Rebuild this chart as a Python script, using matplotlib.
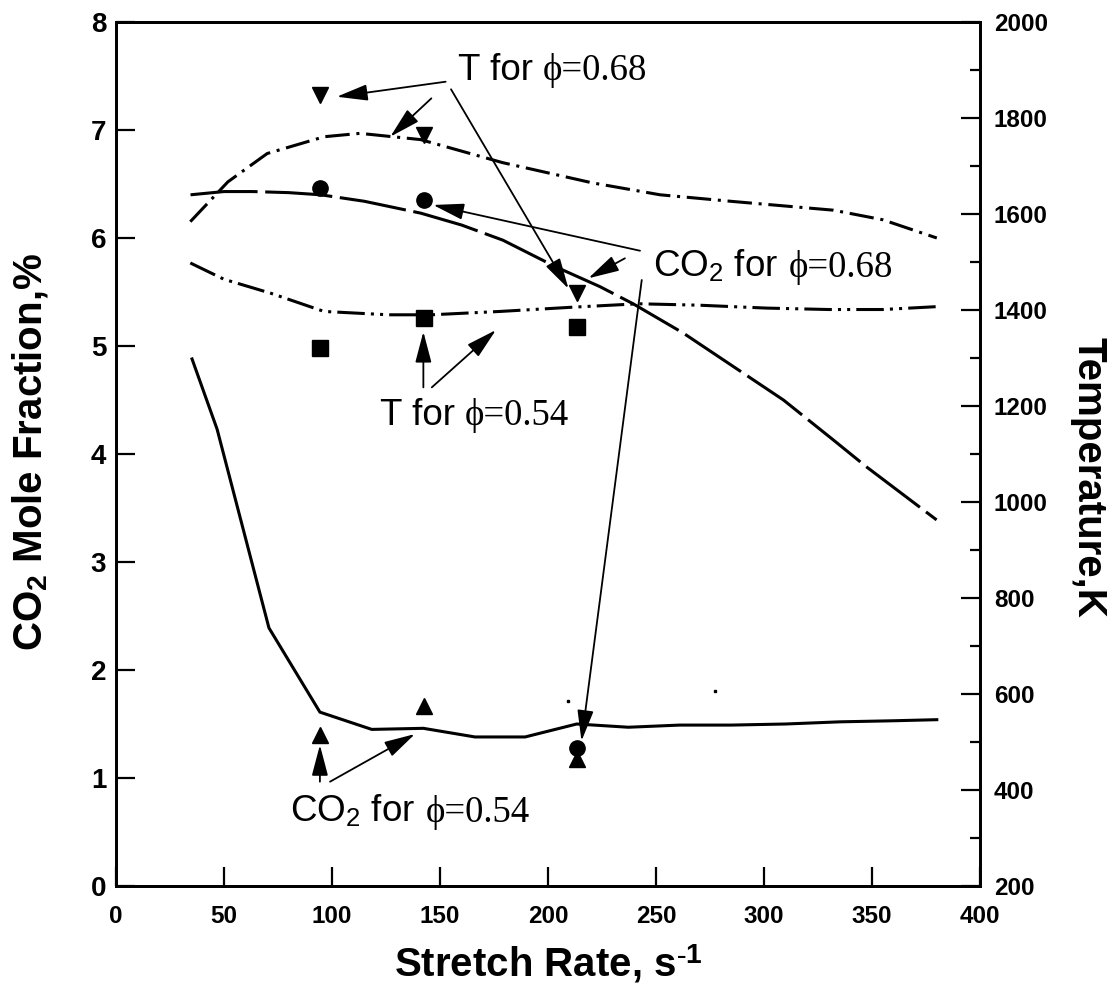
import matplotlib
matplotlib.use("Agg")
import matplotlib.pyplot as plt

plt.rcParams['font.family'] = ['Liberation Sans', 'DejaVu Sans']
plt.rcParams['mathtext.fontset'] = 'custom'
plt.rcParams['mathtext.rm'] = 'Liberation Serif'
plt.rcParams['mathtext.it'] = 'Liberation Serif:italic'
plt.rcParams['mathtext.sf'] = 'Liberation Sans'
plt.rcParams['mathtext.bf'] = 'Liberation Sans:bold'

# ---------------- data ----------------
# CO2 for phi=0.54 (solid, left axis, %)
co2_054_x = [35.2, 46.8, 70.8, 94.4, 118.4, 142.3, 166.2, 189.4, 213.3, 237.2, 261, 285, 310, 335, 360, 380]
co2_054_y = [4.88, 4.23, 2.39, 1.61, 1.45, 1.46, 1.38, 1.38, 1.50, 1.47, 1.49, 1.49, 1.50, 1.52, 1.53, 1.54]

# CO2 for phi=0.68 (long dash, left axis, %)
co2_068_x = [34.5, 50, 63.4, 80, 94.8, 115, 141.1, 160, 179.1, 203.9, 224, 239.5, 262.6, 285.8, 309, 332.1, 347.5, 379.9]
co2_068_y = [6.40, 6.43, 6.43, 6.42, 6.40, 6.34, 6.23, 6.12, 5.98, 5.73, 5.55, 5.39, 5.12, 4.81, 4.50, 4.13, 3.88, 3.39]

# T for phi=0.68 (dash-dot, right axis, K)
t_068_x = [34.4, 51.8, 70, 96.4, 113, 141, 179, 220.4, 251.9, 285.8, 332, 355, 380]
t_068_y = [1584, 1667, 1726, 1761, 1768, 1755, 1707, 1665, 1640, 1626, 1608, 1588, 1550]

# T for phi=0.54 (dash-dot-dot, right axis, K)
t_054_x = [34.4, 50, 71.6, 96.3, 126.2, 146, 177.8, 212, 242, 270, 301, 330, 355, 380]
t_054_y = [1498, 1464, 1435, 1397, 1390, 1390, 1397, 1406, 1413, 1410, 1404, 1401, 1401, 1407]

# measured points
meas_x = [94.3, 142.4, 213.3]
t_068_meas = [1847, 1764, 1435]      # down triangles (K)
t_054_meas = [1320, 1383, 1365]      # squares (K)
co2_068_meas = [6.46, 6.35, 1.275]   # circles (%)
co2_054_meas = [1.40, 1.67, 1.18]    # up triangles (%)

x_ticks = [0, 50, 100, 150, 200, 250, 300, 350, 400]
left_ticks = [0, 1, 2, 3, 4, 5, 6, 7, 8]
right_ticks = [200, 400, 600, 800, 1000, 1200, 1400, 1600, 1800, 2000]
right_minor = [300, 500, 700, 900, 1100, 1300, 1500, 1700, 1900]

# ---------------- figure ----------------
fig = plt.figure(figsize=(11.10, 9.93), dpi=100)
ax = fig.add_axes([116/1110, 1 - 886/993, (980-116)/1110, (886-22)/993])
ax2 = ax.twinx()

ax.set_xlim(0, 400)
ax.set_ylim(0, 8)
ax2.set_ylim(200, 2000)

lw = 2.2
ax.plot(co2_054_x, co2_054_y, color='k', lw=lw, solid_joinstyle='miter')
ax.plot(co2_068_x, co2_068_y, color='k', lw=lw, dashes=(22, 2.5))
ax2.plot(t_068_x, t_068_y, color='k', lw=lw, dashes=(8.0, 2.2, 1.0, 2.2))
ax2.plot(t_054_x, t_054_y, color='k', lw=lw, dashes=(9.0, 2.0, 1.0, 2.0, 1.0, 2.0))

ms = 11
ax2.plot(meas_x, t_068_meas, ls='none', marker='v', ms=ms, color='k')
ax2.plot(meas_x, t_054_meas, ls='none', marker='s', ms=ms, color='k')
ax.plot(meas_x, co2_068_meas, ls='none', marker='o', ms=ms, color='k')
ax.plot(meas_x, co2_054_meas, ls='none', marker='^', ms=ms, color='k')

# tiny specks present in the original
ax.plot([209.4, 277.3], [1.71, 1.81], ls='none', marker='s', ms=1.5, color='k')

# ---------------- axes styling ----------------
for a in (ax, ax2):
    for s in a.spines.values():
        s.set_linewidth(2.0)

ax.set_xticks(x_ticks)
ax.set_yticks(left_ticks)
ax.tick_params(axis='x', direction='in', length=14, width=1.6, pad=14, labelsize=17.5, top=False)
ax.tick_params(axis='y', direction='in', length=14, width=1.6, pad=7, labelsize=20, right=False)
for t in ax.get_xticklabels() + ax.get_yticklabels():
    t.set_fontweight('bold')

ax2.set_yticks(right_ticks)
ax2.set_yticks(right_minor, minor=True)
ax2.tick_params(axis='y', which='major', direction='in', length=14, width=1.6, pad=10, labelsize=17.5)
ax2.tick_params(axis='y', which='minor', direction='in', length=7, width=1.6)
for t in ax2.get_yticklabels():
    t.set_fontweight('bold')

ax.set_xlabel(r'Stretch Rate, s$^{\mathbf{\text{-}1}}$', fontsize=29, fontweight='bold', labelpad=10)
fig.text(30/1110, 1 - 452/993, r'CO$_{\mathbf{2}}$ Mole Fraction,%', rotation=90,
         fontsize=29, fontweight='bold', ha='center', va='center')
fig.text(1088/1110, 1 - 477/993, 'Temperature,K', rotation=-90,
         fontsize=29, fontweight='bold', ha='center', va='center')

# ---------------- annotations ----------------
fs = 26.5
ap = dict(arrowstyle='-|>,head_length=0.95,head_width=0.25', lw=1.3, color='k',
          shrinkA=0, shrinkB=0, mutation_scale=20)

def arrow(start, end):
    ax.annotate('', xy=end, xytext=start, xycoords='data', textcoords='data',
                arrowprops=ap, zorder=5)

renderer = fig.canvas.get_renderer()
sans = ['Liberation Sans', 'DejaVu Sans']
serif = ['Liberation Serif', 'DejaVu Serif']

def text_width_pts(s, family):
    t = fig.text(0, 0, s, fontsize=fs, family=family)
    w = t.get_window_extent(renderer=renderer).width * 72.0 / fig.dpi
    t.remove()
    return w

space_w = text_width_pts('a a', sans) - text_width_pts('aa', sans)

def label(x, y, sans_part, serif_part):
    t1 = ax.text(x, y, sans_part, fontsize=fs, ha='left', va='baseline', family=sans)
    w = t1.get_window_extent(renderer=renderer).width * 72.0 / fig.dpi + space_w
    ax.annotate(serif_part, xy=(x, y), xycoords='data', xytext=(w, 0),
                textcoords='offset points', fontsize=fs, ha='left', va='baseline',
                family=serif)

label(158.3, 7.463, 'T for', '\u03d5=0.68')
arrow((152.6, 7.447), (102.2, 7.308))
arrow((146.0, 7.293), (127.0, 6.938))
arrow((155.1, 7.377), (209.5, 5.53))

label(248.8, 5.642, r'CO$_{\mathsf{2}}$ for', '\u03d5=0.68')
arrow((242.6, 5.882), (146.8, 6.306))
arrow((235.6, 5.812), (218.7, 5.627))
arrow((243.4, 5.611), (215.5, 1.343))

label(122.2, 4.269, 'T for', '\u03d5=0.54')
arrow((142.3, 4.617), (142.3, 5.132))
arrow((146.2, 4.617), (175.9, 5.148))

label(80.6, 0.595, r'CO$_{\mathsf{2}}$ for', '\u03d5=0.54')
arrow((94.4, 0.966), (94.4, 1.306))
arrow((99.1, 0.966), (138.4, 1.407))

fig.savefig('out.png', dpi=100)
